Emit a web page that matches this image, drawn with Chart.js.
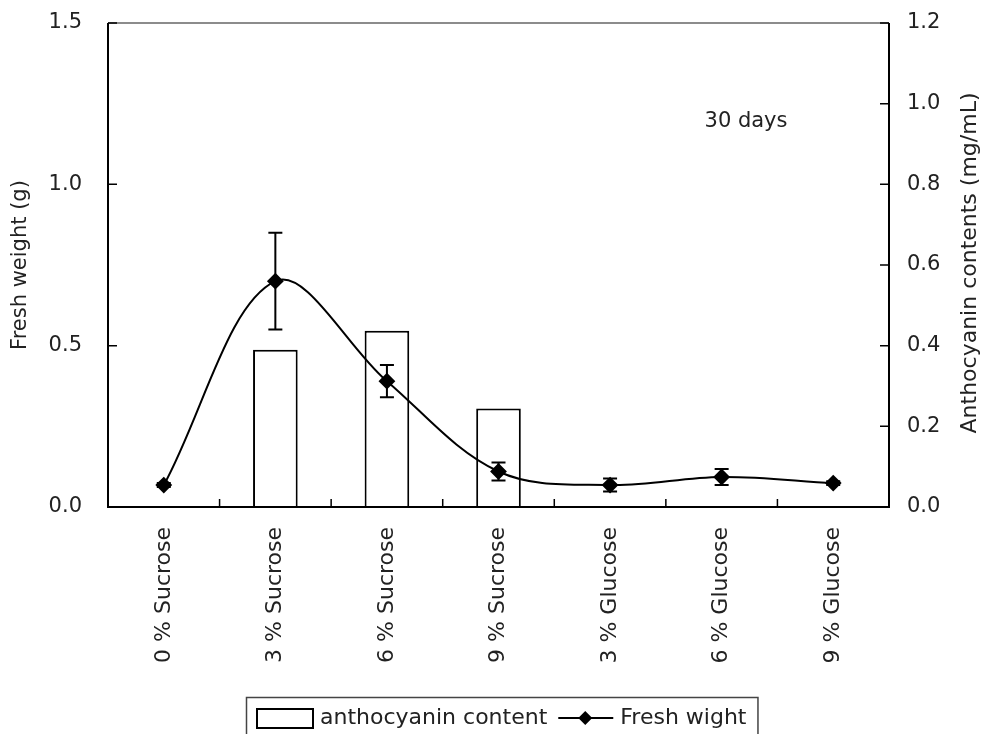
<!DOCTYPE html>
<html>
<head>
<meta charset="utf-8">
<script src="https://cdn.jsdelivr.net/npm/chart.js@4.4.0/dist/chart.umd.min.js"></script>
<style>
html, body { margin: 0; padding: 0; background: #fff; }
canvas { display: block; }
</style>
</head>
<body>
<canvas id="chart" width="986" height="734"></canvas>
<script>
// data
var categories = ["0 % Sucrose", "3 % Sucrose", "6 % Sucrose", "9 % Sucrose", "3 % Glucose", "6 % Glucose", "9 % Glucose"];
var freshWeight = [0.068, 0.70, 0.39, 0.11, 0.068, 0.093, 0.074];
var freshWeightErr = [0.006, 0.15, 0.05, 0.028, 0.02, 0.025, 0.006];
var anthocyanin = [null, 0.39, 0.437, 0.244, null, null, null];
var leftTicks = [0, 0.5, 1.0, 1.5];
var rightTicks = [0, 0.2, 0.4, 0.6, 0.8, 1.0, 1.2];
var leftTitle = "Fresh weight (g)";
var rightTitle = "Anthocyanin contents (mg/mL)";
var note = "30 days";

var FONT = "DejaVu Sans";
Chart.defaults.font.family = FONT;
Chart.defaults.font.size = 21;
Chart.defaults.color = "#222";

var extras = {
  id: "extras",
  afterDatasetsDraw: function(chart) {
    var ctx = chart.ctx;
    var a = chart.chartArea;
    var x = chart.scales.x, y = chart.scales.y, y1 = chart.scales.y1;
    ctx.save();

    // error bars on fresh weight
    ctx.strokeStyle = "#000";
    ctx.lineWidth = 2;
    for (var i = 0; i < freshWeight.length; i++) {
      var px = x.getPixelForValue(i);
      var top = y.getPixelForValue(freshWeight[i] + freshWeightErr[i]);
      var bot = y.getPixelForValue(freshWeight[i] - freshWeightErr[i]);
      ctx.beginPath();
      ctx.moveTo(px, top); ctx.lineTo(px, bot);
      ctx.moveTo(px - 7, top); ctx.lineTo(px + 7, top);
      ctx.moveTo(px - 7, bot); ctx.lineTo(px + 7, bot);
      ctx.stroke();
    }

    // frame
    ctx.lineWidth = 1.5;
    ctx.strokeStyle = "#666";
    ctx.beginPath();
    ctx.moveTo(a.left, a.top); ctx.lineTo(a.right, a.top);
    ctx.stroke();
    ctx.strokeStyle = "#000";
    ctx.lineWidth = 2;
    ctx.beginPath();
    ctx.moveTo(a.left, a.top); ctx.lineTo(a.left, a.bottom);
    ctx.lineTo(a.right, a.bottom); ctx.lineTo(a.right, a.top);
    ctx.stroke();

    // inward tick marks
    ctx.lineWidth = 1.5;
    ctx.beginPath();
    leftTicks.forEach(function(v) {
      var py = y.getPixelForValue(v);
      ctx.moveTo(a.left, py); ctx.lineTo(a.left + 9, py);
    });
    rightTicks.forEach(function(v) {
      var py = y1.getPixelForValue(v);
      ctx.moveTo(a.right, py); ctx.lineTo(a.right - 9, py);
    });
    for (var k = 1; k < categories.length; k++) {
      var bx = (x.getPixelForValue(k - 1) + x.getPixelForValue(k)) / 2;
      ctx.moveTo(bx, a.bottom); ctx.lineTo(bx, a.bottom - 8);
    }
    ctx.stroke();

    // axis titles
    ctx.fillStyle = "#222";
    ctx.textAlign = "center";
    ctx.textBaseline = "middle";
    var cy = (a.top + a.bottom) / 2;
    ctx.font = "21px '" + FONT + "'";
    ctx.save();
    ctx.translate(21, cy);
    ctx.rotate(-Math.PI / 2);
    ctx.fillText(leftTitle, 0, 0);
    ctx.restore();
    ctx.font = "22px '" + FONT + "'";
    ctx.save();
    ctx.translate(970, cy - 2);
    ctx.rotate(-Math.PI / 2);
    ctx.fillText(rightTitle, 0, 0);
    ctx.restore();

    // note
    ctx.font = "21px '" + FONT + "'";
    ctx.fillText(note, 746, 122);

    // legend (box runs off the bottom edge, as in the figure)
    var lx = 246, ly = 697, my = 718;
    ctx.font = "22px '" + FONT + "'";
    ctx.textAlign = "left";
    var t1 = chart.data.datasets[1].label, t2 = chart.data.datasets[0].label;
    var w1 = ctx.measureText(t1).width, w2 = ctx.measureText(t2).width;
    var cx = lx + 11;
    ctx.strokeStyle = "#000";
    ctx.lineWidth = 2;
    ctx.strokeRect(cx, my - 9, 56, 19);
    cx += 63;
    ctx.fillText(t1, cx, my);
    cx += w1 + 11;
    ctx.beginPath();
    ctx.moveTo(cx, my); ctx.lineTo(cx + 55, my);
    ctx.stroke();
    ctx.fillStyle = "#000";
    ctx.beginPath();
    ctx.moveTo(cx + 27, my - 7); ctx.lineTo(cx + 34, my);
    ctx.lineTo(cx + 27, my + 7); ctx.lineTo(cx + 20, my);
    ctx.closePath(); ctx.fill();
    cx += 62;
    ctx.fillStyle = "#222";
    ctx.fillText(t2, cx, my);
    cx += w2 + 11;
    ctx.strokeStyle = "#444";
    ctx.lineWidth = 1.5;
    ctx.strokeRect(lx + 0.5, ly + 0.5, cx - lx, 60);

    ctx.restore();
  }
};

function fixY(width) {
  return function(s) {
    s.width = width;
    s.paddingTop = 0;
    s.paddingBottom = 0;
  };
}

var chart = new Chart(document.getElementById("chart"), {
  data: {
    labels: categories,
    datasets: [
      {
        type: "line",
        label: "Fresh wight",
        data: freshWeight,
        yAxisID: "y",
        borderColor: "#000",
        borderWidth: 2,
        tension: 0.35,
        pointStyle: "rectRot",
        pointRadius: 7,
        pointBackgroundColor: "#000",
        pointBorderColor: "#000",
        order: 0
      },
      {
        type: "bar",
        label: "anthocyanin content",
        data: anthocyanin,
        yAxisID: "y1",
        backgroundColor: "#fff",
        borderColor: "#000",
        borderWidth: 2,
        barPercentage: 0.4,
        categoryPercentage: 1.0,
        order: 1
      }
    ]
  },
  options: {
    responsive: false,
    animation: false,
    devicePixelRatio: 1,
    layout: { padding: { top: 23, left: 0, right: 0, bottom: 0 } },
    plugins: { legend: { display: false }, tooltip: { enabled: false } },
    scales: {
      x: {
        grid: { display: false, drawTicks: false },
        border: { display: false },
        ticks: { minRotation: 90, maxRotation: 90, padding: 20, color: "#222", font: { size: 22 } },
        afterFit: function(s) { s.height = 227; }
      },
      y: {
        position: "left",
        min: 0, max: 1.5,
        grid: { display: false, drawTicks: false },
        border: { display: false },
        ticks: { stepSize: 0.5, padding: 26, callback: function(v) { return v.toFixed(1); } },
        afterFit: fixY(108)
      },
      y1: {
        position: "right",
        min: 0, max: 1.2,
        grid: { display: false, drawTicks: false },
        border: { display: false },
        ticks: { stepSize: 0.2, padding: 18, callback: function(v) { return v.toFixed(1); } },
        afterFit: fixY(97)
      }
    }
  },
  plugins: [extras]
});
</script>
</body>
</html>
